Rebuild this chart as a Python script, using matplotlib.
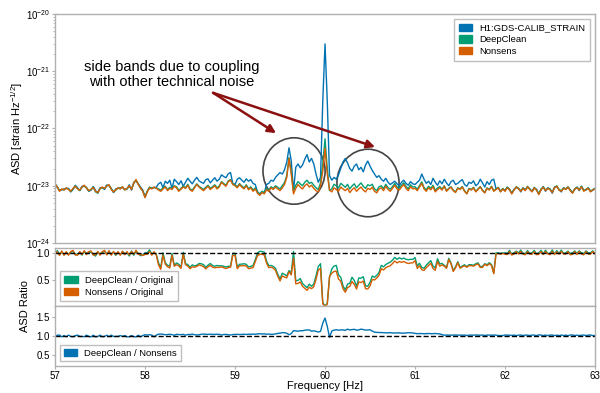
import numpy as np
import matplotlib
matplotlib.use("Agg")
import matplotlib.pyplot as plt
from matplotlib.patches import Patch, Ellipse

plt.rcParams['font.family'] = ['Liberation Sans', 'DejaVu Sans']
plt.rcParams['mathtext.default'] = 'regular'

# frequency grid, 0.025 Hz steps from 57 to 63 Hz
freq = np.round(np.linspace(57.0, 63.0, 241), 3)

# ASD values in units of 1e-23 strain/rtHz, one row per Hz (40 values each) + 63 Hz
original = [
    1.10, 0.93, 0.84, 0.85, 0.88, 0.90, 0.90, 0.78, 0.86, 1.02, 0.92, 0.82, 0.98, 0.98, 0.93, 0.80, 0.84, 0.97, 0.83, 0.74,
    0.92, 0.93, 0.86, 1.03, 1.00, 0.90, 0.76, 0.88, 0.90, 0.92, 0.93, 0.87, 0.88, 1.04, 0.84, 1.15, 1.22, 1.08, 0.95, 0.84,
    0.64, 0.80, 0.90, 0.92, 0.93, 0.94, 1.08, 1.15, 0.92, 1.20, 1.10, 1.25, 0.90, 1.30, 1.18, 1.05, 1.22, 0.98, 1.15, 1.35,
    1.20, 1.08, 1.25, 1.40, 1.22, 1.15, 1.10, 1.28, 1.32, 1.12, 1.25, 1.38, 1.20, 1.30, 1.55, 1.45, 1.38, 1.62, 1.70, 1.10,
    1.05, 1.30, 1.38, 1.25, 1.15, 1.32, 1.20, 1.28, 1.10, 1.05, 0.78, 0.70, 0.78, 0.75, 1.05, 1.10, 1.25, 1.20, 1.40, 1.55,
    1.70, 1.60, 1.90, 2.60, 4.60, 2.70, 0.80, 2.10, 2.40, 2.05, 2.30, 2.90, 3.50, 2.60, 3.00, 2.40, 1.60, 1.15, 1.40, 30.0,
    300., 30.0, 1.50, 1.25, 1.40, 1.30, 1.55, 2.00, 2.60, 3.00, 2.50, 2.00, 1.80, 2.20, 2.40, 1.90, 2.10, 1.75, 2.30, 2.70,
    2.20, 1.85, 1.60, 1.40, 1.50, 1.30, 1.20, 1.35, 1.15, 1.05, 1.12, 1.20, 1.08, 1.00, 1.15, 1.25, 1.10, 1.02, 1.18, 1.08,
    1.05, 1.15, 1.25, 1.60, 1.30, 1.10, 1.20, 1.05, 1.35, 1.15, 1.02, 1.22, 1.08, 1.30, 1.12, 1.00, 1.18, 1.25, 1.05, 1.10,
    1.20, 1.28, 1.05, 0.98, 1.15, 1.10, 1.22, 1.00, 1.08, 1.30, 1.12, 0.95, 1.18, 1.05, 1.25, 1.30, 0.88, 0.93, 0.80, 0.89,
    0.82, 0.95, 0.84, 0.75, 0.86, 0.93, 0.90, 0.78, 0.92, 0.85, 0.94, 0.88, 0.80, 0.90, 0.87, 0.72, 0.84, 0.97, 0.80, 0.92,
    0.88, 0.74, 0.95, 0.96, 0.86, 0.78, 0.92, 0.88, 0.93, 0.85, 0.76, 0.86, 0.95, 0.82, 0.98, 0.83, 0.84, 0.92, 0.80, 0.83,
    0.90,
]
deepclean = [
    1.06, 0.97, 0.82, 0.86, 0.85, 0.90, 0.88, 0.79, 0.88, 0.99, 0.90, 0.83, 0.94, 1.00, 0.92, 0.81, 0.85, 0.95, 0.78, 0.75,
    0.90, 0.93, 0.89, 1.01, 1.02, 0.88, 0.77, 0.84, 0.91, 0.89, 0.95, 0.85, 0.88, 0.98, 0.87, 1.10, 1.25, 1.07, 0.90, 0.81,
    0.64, 0.80, 0.95, 0.90, 0.93, 0.92, 0.88, 0.84, 0.92, 0.98, 0.85, 0.94, 0.89, 1.00, 0.96, 0.83, 0.90, 0.99, 0.92, 1.06,
    0.88, 0.84, 0.95, 1.08, 0.98, 0.92, 0.86, 0.94, 1.02, 0.90, 0.96, 1.04, 0.92, 0.99, 1.18, 1.09, 1.02, 1.22, 1.28, 1.09,
    1.04, 0.96, 1.09, 0.99, 0.92, 1.04, 0.89, 0.96, 0.84, 0.92, 0.78, 0.72, 0.80, 0.76, 0.89, 0.84, 0.96, 0.90, 1.00, 0.94,
    0.88, 1.00, 1.14, 1.50, 3.10, 1.70, 0.82, 1.02, 1.18, 1.08, 1.00, 1.15, 1.25, 1.10, 1.15, 1.02, 0.92, 0.86, 1.12, 2.40,
    6.60, 2.00, 0.82, 0.88, 1.06, 1.00, 0.92, 1.10, 1.02, 0.94, 1.06, 0.88, 0.99, 1.08, 0.92, 1.02, 1.12, 0.98, 0.90, 1.04,
    1.00, 1.06, 0.88, 0.82, 0.96, 1.00, 0.89, 1.06, 0.93, 0.87, 0.97, 1.10, 0.95, 0.91, 1.02, 1.13, 0.97, 0.89, 1.04, 0.95,
    0.96, 0.87, 1.01, 1.17, 0.93, 0.85, 0.98, 0.90, 1.02, 0.83, 0.91, 0.97, 0.87, 1.00, 0.82, 0.90, 0.96, 0.84, 0.78, 0.92,
    0.88, 0.97, 0.82, 0.73, 0.90, 0.86, 0.94, 0.80, 0.88, 0.97, 0.84, 0.76, 0.92, 0.86, 0.98, 0.82, 0.88, 0.93, 0.79, 0.89,
    0.82, 0.94, 0.88, 0.73, 0.86, 0.96, 0.90, 0.82, 0.91, 0.84, 0.98, 0.87, 0.80, 0.94, 0.85, 0.72, 0.88, 0.95, 0.84, 0.91,
    0.87, 0.78, 0.93, 1.00, 0.85, 0.82, 0.91, 0.88, 0.96, 0.84, 0.76, 0.89, 0.94, 0.85, 0.98, 0.82, 0.87, 0.92, 0.80, 0.86,
    0.89,
]
nonsens = [
    1.08, 0.95, 0.80, 0.88, 0.84, 0.92, 0.86, 0.80, 0.90, 0.98, 0.88, 0.84, 0.95, 1.02, 0.90, 0.82, 0.87, 0.93, 0.80, 0.76,
    0.88, 0.95, 0.90, 0.99, 1.04, 0.86, 0.78, 0.85, 0.92, 0.88, 0.96, 0.84, 0.90, 1.00, 0.86, 1.12, 1.28, 1.05, 0.92, 0.80,
    0.62, 0.78, 0.92, 0.88, 0.95, 0.90, 0.84, 0.80, 0.88, 0.95, 0.82, 0.90, 0.86, 0.98, 0.92, 0.80, 0.87, 0.95, 0.90, 1.02,
    0.85, 0.80, 0.92, 1.05, 0.95, 0.88, 0.82, 0.90, 0.98, 0.86, 0.92, 1.00, 0.88, 0.95, 1.15, 1.05, 0.98, 1.18, 1.25, 1.05,
    1.00, 0.92, 1.05, 0.95, 0.88, 1.00, 0.85, 0.92, 0.80, 0.88, 0.74, 0.68, 0.76, 0.72, 0.85, 0.80, 0.92, 0.86, 0.95, 0.88,
    0.82, 0.92, 1.05, 1.40, 3.00, 1.60, 0.72, 0.90, 1.05, 0.95, 0.88, 1.00, 1.08, 0.95, 1.02, 0.90, 0.82, 0.78, 1.00, 1.80,
    4.50, 1.60, 0.85, 0.78, 0.92, 0.86, 0.80, 0.95, 0.88, 0.82, 0.90, 0.76, 0.85, 0.92, 0.80, 0.88, 0.95, 0.84, 0.78, 0.90,
    0.86, 0.94, 0.80, 0.75, 0.88, 0.92, 0.82, 0.98, 0.86, 0.80, 0.90, 1.02, 0.88, 0.84, 0.95, 1.05, 0.90, 0.82, 0.96, 0.88,
    0.90, 0.82, 0.95, 1.10, 0.88, 0.80, 0.92, 0.85, 0.96, 0.78, 0.86, 0.92, 0.84, 0.98, 0.80, 0.88, 0.94, 0.82, 0.76, 0.90,
    0.86, 0.95, 0.80, 0.72, 0.88, 0.84, 0.92, 0.78, 0.86, 0.95, 0.82, 0.75, 0.90, 0.84, 0.96, 0.80, 0.86, 0.92, 0.78, 0.88,
    0.80, 0.92, 0.86, 0.72, 0.84, 0.95, 0.88, 0.80, 0.90, 0.82, 0.96, 0.86, 0.78, 0.92, 0.84, 0.70, 0.86, 0.94, 0.82, 0.90,
    0.85, 0.76, 0.92, 0.98, 0.84, 0.80, 0.90, 0.86, 0.95, 0.82, 0.74, 0.88, 0.92, 0.84, 0.96, 0.80, 0.86, 0.90, 0.78, 0.85,
    0.88,
]

orig = np.array(original) * 1e-23
dc = np.array(deepclean) * 1e-23
ns = np.array(nonsens) * 1e-23

c_blue = '#0173b2'
c_green = '#029e73'
c_orange = '#d55e00'
spine_c = '#b0b0b0'

fig = plt.figure(figsize=(6.0, 3.93), dpi=100)
ax1 = fig.add_axes([0.0917, 0.3817, 0.9, 0.5827])
ax2 = fig.add_axes([0.0917, 0.2214, 0.9, 0.1476])
ax3 = fig.add_axes([0.0917, 0.0687, 0.9, 0.1527])

for ax in (ax1, ax2, ax3):
    for s in ax.spines.values():
        s.set_color(spine_c)
        s.set_linewidth(1.0)
    ax.set_xlim(57, 63)
    ax.tick_params(labelsize=7, color=spine_c, length=2, width=0.8, pad=1.5, which='major')
    ax.tick_params(which='minor', color=spine_c, length=1.5, width=0.6)

# top panel: ASDs
ax1.plot(freq, orig, color=c_blue, lw=1.0)
ax1.plot(freq, dc, color=c_green, lw=1.0)
ax1.plot(freq, ns, color=c_orange, lw=1.0)
ax1.set_yscale('log')
ax1.set_ylim(1e-24, 1e-20)
ax1.set_xticks([])
ax1.legend(handles=[Patch(color=c_blue, label='H1:GDS-CALIB_STRAIN'),
                    Patch(color=c_green, label='DeepClean'),
                    Patch(color=c_orange, label='Nonsens')],
           loc='upper right', fontsize=6.8, fancybox=False, edgecolor=spine_c,
           handlelength=1.4, handleheight=0.8, borderpad=0.5, labelspacing=0.3)

ax1.text(58.3, 8.8e-22, 'side bands due to coupling\nwith other technical noise',
         ha='center', va='center', fontsize=10.5, linespacing=1.15)
for tip in [(59.456, 8.3e-23), (60.556, 4.75e-23)]:
    ax1.annotate('', xy=tip, xytext=(58.756, 4.2e-22),
                 arrowprops=dict(arrowstyle='-|>', color='#8b1010', lw=1.8,
                                 mutation_scale=12, shrinkA=0, shrinkB=0))
ax1.add_patch(Ellipse((0.4426, 0.3144), 0.115, 0.29, transform=ax1.transAxes,
                      fill=False, edgecolor='#444444', lw=1.2))
ax1.add_patch(Ellipse((0.5796, 0.262), 0.115, 0.295, transform=ax1.transAxes,
                      fill=False, edgecolor='#444444', lw=1.2))

# middle panel: ratios to original
ax2.plot(freq, dc / orig, color=c_green, lw=1.0)
ax2.plot(freq, ns / orig, color=c_orange, lw=1.0)
ax2.axhline(1.0, color='black', ls='--', lw=1.0)
ax2.set_ylim(0.02, 1.09)
ax2.set_yticks([0.5, 1.0])
ax2.set_xticks([])
ax2.legend(handles=[Patch(color=c_green, label='DeepClean / Original'),
                    Patch(color=c_orange, label='Nonsens / Original')],
           loc='lower left', fontsize=6.8, fancybox=False, edgecolor=spine_c,
           handlelength=1.4, handleheight=0.8, borderpad=0.5, labelspacing=0.3)

# bottom panel: DeepClean / Nonsens
ax3.plot(freq, dc / ns, color=c_blue, lw=1.0)
ax3.axhline(1.0, color='black', ls='--', lw=1.0)
ax3.set_ylim(0.22, 1.78)
ax3.set_yticks([0.5, 1.0, 1.5])
ax3.set_xticks([57, 58, 59, 60, 61, 62, 63])
ax3.legend(handles=[Patch(color=c_blue, label='DeepClean / Nonsens')],
           loc='lower left', fontsize=6.8, fancybox=False, edgecolor=spine_c,
           handlelength=1.4, handleheight=0.8, borderpad=0.4)

fig.text(17 / 600, 1 - 128.5 / 393, 'ASD [strain Hz$^{-1/2}$]', rotation=90,
         fontsize=8, ha='center', va='center')
fig.text(25 / 600, 1 - 306 / 393, 'ASD Ratio', rotation=90, fontsize=8,
         ha='center', va='center')
fig.text(325 / 600, 1 - 386 / 393, 'Frequency [Hz]', fontsize=8,
         ha='center', va='center')

fig.savefig('out.png', dpi=100)
